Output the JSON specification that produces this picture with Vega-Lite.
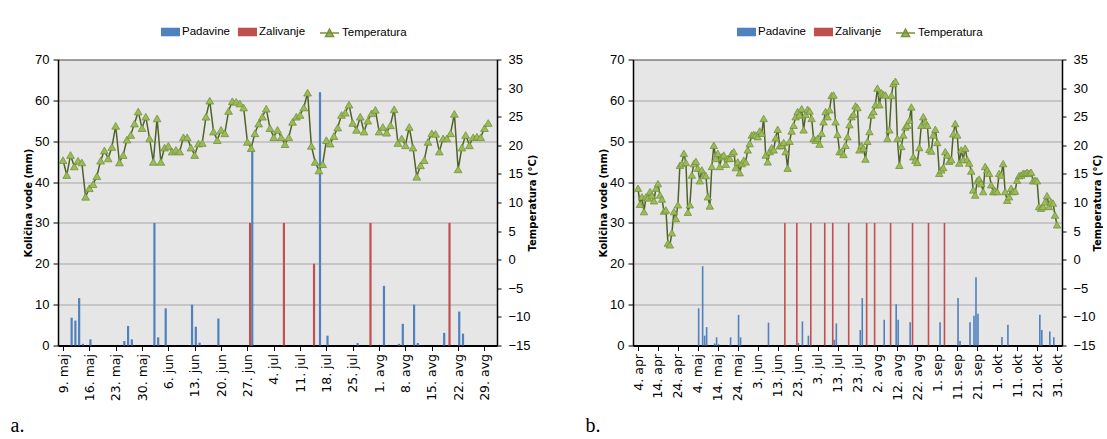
{
  "$schema": "https://vega.github.io/schema/vega-lite/v6.json",
  "background": "white",
  "padding": {"left": 10, "top": 21.5, "right": 0, "bottom": 0},
  "autosize": {"type": "pad"},
  "spacing": 47,
  "config": {
    "view": {"stroke": "#333333", "strokeWidth": 1, "fill": "#E6E6E6"},
    "axis": {"labelColor": "#000000", "titleColor": "#000000", "domainColor": "#000000", "tickColor": "#000000", "labelFont": "Liberation Sans, sans-serif", "labelFontSize": 13},
    "legend": {"labelFont": "Liberation Sans, sans-serif", "labelFontSize": 11.5, "labelColor": "#000000"}
  },
  "datasets": {
    "a": [
      {"d":"2015-05-09","s":"Temperatura","v":17.4},{"d":"2015-05-10","s":"Temperatura","v":14.8},{"d":"2015-05-11","s":"Temperatura","v":18.3},{"d":"2015-05-12","s":"Temperatura","v":16.3},{"d":"2015-05-13","s":"Temperatura","v":17.3},{"d":"2015-05-14","s":"Temperatura","v":17.0},{"d":"2015-05-15","s":"Temperatura","v":11.0},{"d":"2015-05-16","s":"Temperatura","v":12.5},{"d":"2015-05-17","s":"Temperatura","v":13.2},{"d":"2015-05-18","s":"Temperatura","v":14.6},{"d":"2015-05-19","s":"Temperatura","v":17.3},{"d":"2015-05-20","s":"Temperatura","v":19.1},{"d":"2015-05-21","s":"Temperatura","v":17.7},{"d":"2015-05-22","s":"Temperatura","v":19.7},{"d":"2015-05-23","s":"Temperatura","v":23.4},{"d":"2015-05-24","s":"Temperatura","v":17.0},{"d":"2015-05-25","s":"Temperatura","v":18.3},{"d":"2015-05-26","s":"Temperatura","v":21.0},{"d":"2015-05-27","s":"Temperatura","v":21.8},{"d":"2015-05-28","s":"Temperatura","v":23.8},{"d":"2015-05-29","s":"Temperatura","v":25.9},{"d":"2015-05-30","s":"Temperatura","v":23.0},{"d":"2015-05-31","s":"Temperatura","v":25.0},
      {"d":"2015-06-01","s":"Temperatura","v":21.2},{"d":"2015-06-02","s":"Temperatura","v":17.1},{"d":"2015-06-03","s":"Temperatura","v":24.7},{"d":"2015-06-04","s":"Temperatura","v":17.1},{"d":"2015-06-05","s":"Temperatura","v":19.6},{"d":"2015-06-06","s":"Temperatura","v":19.9},{"d":"2015-06-07","s":"Temperatura","v":18.9},{"d":"2015-06-08","s":"Temperatura","v":19.2},{"d":"2015-06-09","s":"Temperatura","v":18.9},{"d":"2015-06-10","s":"Temperatura","v":21.4},{"d":"2015-06-11","s":"Temperatura","v":21.4},{"d":"2015-06-12","s":"Temperatura","v":19.6},{"d":"2015-06-13","s":"Temperatura","v":18.3},{"d":"2015-06-14","s":"Temperatura","v":20.3},{"d":"2015-06-15","s":"Temperatura","v":20.4},{"d":"2015-06-16","s":"Temperatura","v":25.0},{"d":"2015-06-17","s":"Temperatura","v":27.8},{"d":"2015-06-18","s":"Temperatura","v":22.4},{"d":"2015-06-19","s":"Temperatura","v":20.9},{"d":"2015-06-20","s":"Temperatura","v":22.7},{"d":"2015-06-21","s":"Temperatura","v":22.1},{"d":"2015-06-22","s":"Temperatura","v":26.0},{"d":"2015-06-23","s":"Temperatura","v":27.7},{"d":"2015-06-24","s":"Temperatura","v":27.6},{"d":"2015-06-25","s":"Temperatura","v":27.3},{"d":"2015-06-26","s":"Temperatura","v":26.6},{"d":"2015-06-27","s":"Temperatura","v":20.6},{"d":"2015-06-28","s":"Temperatura","v":19.5},{"d":"2015-06-29","s":"Temperatura","v":22.1},{"d":"2015-06-30","s":"Temperatura","v":23.8},
      {"d":"2015-07-01","s":"Temperatura","v":25.0},{"d":"2015-07-02","s":"Temperatura","v":26.4},{"d":"2015-07-03","s":"Temperatura","v":23.0},{"d":"2015-07-04","s":"Temperatura","v":21.4},{"d":"2015-07-05","s":"Temperatura","v":22.7},{"d":"2015-07-06","s":"Temperatura","v":21.4},{"d":"2015-07-07","s":"Temperatura","v":20.2},{"d":"2015-07-08","s":"Temperatura","v":21.4},{"d":"2015-07-09","s":"Temperatura","v":24.1},{"d":"2015-07-10","s":"Temperatura","v":25.0},{"d":"2015-07-11","s":"Temperatura","v":25.3},{"d":"2015-07-12","s":"Temperatura","v":26.6},{"d":"2015-07-13","s":"Temperatura","v":29.2},{"d":"2015-07-14","s":"Temperatura","v":19.9},{"d":"2015-07-15","s":"Temperatura","v":17.1},{"d":"2015-07-16","s":"Temperatura","v":15.6},{"d":"2015-07-17","s":"Temperatura","v":16.7},{"d":"2015-07-18","s":"Temperatura","v":20.9},{"d":"2015-07-19","s":"Temperatura","v":20.3},{"d":"2015-07-20","s":"Temperatura","v":21.6},{"d":"2015-07-21","s":"Temperatura","v":23.1},{"d":"2015-07-22","s":"Temperatura","v":25.3},{"d":"2015-07-23","s":"Temperatura","v":25.7},{"d":"2015-07-24","s":"Temperatura","v":27.1},{"d":"2015-07-25","s":"Temperatura","v":23.9},{"d":"2015-07-26","s":"Temperatura","v":22.7},{"d":"2015-07-27","s":"Temperatura","v":25.0},{"d":"2015-07-28","s":"Temperatura","v":22.4},{"d":"2015-07-29","s":"Temperatura","v":24.3},{"d":"2015-07-30","s":"Temperatura","v":25.6},{"d":"2015-07-31","s":"Temperatura","v":26.2},
      {"d":"2015-08-01","s":"Temperatura","v":22.4},{"d":"2015-08-02","s":"Temperatura","v":23.2},{"d":"2015-08-03","s":"Temperatura","v":22.2},{"d":"2015-08-04","s":"Temperatura","v":23.5},{"d":"2015-08-05","s":"Temperatura","v":26.3},{"d":"2015-08-06","s":"Temperatura","v":20.4},{"d":"2015-08-07","s":"Temperatura","v":21.2},{"d":"2015-08-08","s":"Temperatura","v":20.0},{"d":"2015-08-09","s":"Temperatura","v":23.2},{"d":"2015-08-10","s":"Temperatura","v":19.6},{"d":"2015-08-11","s":"Temperatura","v":14.5},{"d":"2015-08-12","s":"Temperatura","v":16.5},{"d":"2015-08-13","s":"Temperatura","v":17.4},{"d":"2015-08-14","s":"Temperatura","v":20.6},{"d":"2015-08-15","s":"Temperatura","v":22.1},{"d":"2015-08-16","s":"Temperatura","v":22.0},{"d":"2015-08-17","s":"Temperatura","v":18.9},{"d":"2015-08-18","s":"Temperatura","v":21.2},{"d":"2015-08-19","s":"Temperatura","v":21.2},{"d":"2015-08-20","s":"Temperatura","v":22.1},{"d":"2015-08-21","s":"Temperatura","v":25.5},{"d":"2015-08-22","s":"Temperatura","v":15.8},{"d":"2015-08-23","s":"Temperatura","v":19.6},{"d":"2015-08-24","s":"Temperatura","v":21.8},{"d":"2015-08-25","s":"Temperatura","v":20.0},{"d":"2015-08-26","s":"Temperatura","v":21.4},{"d":"2015-08-27","s":"Temperatura","v":21.5},{"d":"2015-08-28","s":"Temperatura","v":21.4},{"d":"2015-08-29","s":"Temperatura","v":23.0},{"d":"2015-08-30","s":"Temperatura","v":23.9},
      {"d":"2015-05-11","s":"Padavine","v":6.8},{"d":"2015-05-12","s":"Padavine","v":6.1},{"d":"2015-05-13","s":"Padavine","v":11.6},{"d":"2015-05-14","s":"Padavine","v":0.4},{"d":"2015-05-16","s":"Padavine","v":1.5},{"d":"2015-05-25","s":"Padavine","v":1.1},{"d":"2015-05-26","s":"Padavine","v":4.8},{"d":"2015-05-27","s":"Padavine","v":1.5},{"d":"2015-06-02","s":"Padavine","v":30.0},{"d":"2015-06-03","s":"Padavine","v":2.0},{"d":"2015-06-05","s":"Padavine","v":9.1},{"d":"2015-06-12","s":"Padavine","v":10.0},{"d":"2015-06-13","s":"Padavine","v":4.6},{"d":"2015-06-14","s":"Padavine","v":0.7},{"d":"2015-06-19","s":"Padavine","v":6.6},{"d":"2015-06-28","s":"Padavine","v":48.0},{"d":"2015-07-16","s":"Padavine","v":62.0},{"d":"2015-07-18","s":"Padavine","v":2.4},{"d":"2015-07-26","s":"Padavine","v":0.6},{"d":"2015-08-02","s":"Padavine","v":14.6},{"d":"2015-08-06","s":"Padavine","v":0.4},{"d":"2015-08-07","s":"Padavine","v":5.3},{"d":"2015-08-10","s":"Padavine","v":10.0},{"d":"2015-08-11","s":"Padavine","v":0.6},{"d":"2015-08-18","s":"Padavine","v":3.1},{"d":"2015-08-22","s":"Padavine","v":8.3},{"d":"2015-08-23","s":"Padavine","v":2.9},
      {"d":"2015-06-28","s":"Zalivanje","v":30},{"d":"2015-07-07","s":"Zalivanje","v":30},{"d":"2015-07-15","s":"Zalivanje","v":20},{"d":"2015-07-30","s":"Zalivanje","v":30},{"d":"2015-08-20","s":"Zalivanje","v":30}
    ],
    "b": [
      {"d":"2015-04-04","s":"Temperatura","v":12.5},{"d":"2015-04-05","s":"Temperatura","v":9.7},{"d":"2015-04-06","s":"Temperatura","v":11.0},{"d":"2015-04-07","s":"Temperatura","v":8.4},{"d":"2015-04-08","s":"Temperatura","v":11.0},{"d":"2015-04-09","s":"Temperatura","v":10.8},{"d":"2015-04-10","s":"Temperatura","v":11.9},{"d":"2015-04-11","s":"Temperatura","v":11.2},{"d":"2015-04-12","s":"Temperatura","v":10.3},{"d":"2015-04-13","s":"Temperatura","v":12.5},{"d":"2015-04-14","s":"Temperatura","v":13.3},{"d":"2015-04-15","s":"Temperatura","v":11.3},{"d":"2015-04-16","s":"Temperatura","v":10.6},{"d":"2015-04-17","s":"Temperatura","v":8.5},{"d":"2015-04-18","s":"Temperatura","v":8.7},{"d":"2015-04-19","s":"Temperatura","v":2.9},{"d":"2015-04-20","s":"Temperatura","v":2.6},{"d":"2015-04-21","s":"Temperatura","v":4.7},{"d":"2015-04-22","s":"Temperatura","v":8.4},{"d":"2015-04-23","s":"Temperatura","v":7.2},{"d":"2015-04-24","s":"Temperatura","v":9.6},{"d":"2015-04-25","s":"Temperatura","v":16.5},{"d":"2015-04-26","s":"Temperatura","v":16.8},{"d":"2015-04-27","s":"Temperatura","v":18.6},{"d":"2015-04-28","s":"Temperatura","v":17.0},{"d":"2015-04-29","s":"Temperatura","v":8.3},{"d":"2015-04-30","s":"Temperatura","v":9.6},
      {"d":"2015-05-01","s":"Temperatura","v":14.8},{"d":"2015-05-02","s":"Temperatura","v":16.8},{"d":"2015-05-03","s":"Temperatura","v":17.2},{"d":"2015-05-04","s":"Temperatura","v":16.0},{"d":"2015-05-05","s":"Temperatura","v":13.8},{"d":"2015-05-06","s":"Temperatura","v":15.7},{"d":"2015-05-07","s":"Temperatura","v":14.8},{"d":"2015-05-08","s":"Temperatura","v":14.7},{"d":"2015-05-09","s":"Temperatura","v":11.0},{"d":"2015-05-10","s":"Temperatura","v":9.4},{"d":"2015-05-11","s":"Temperatura","v":16.3},{"d":"2015-05-12","s":"Temperatura","v":20.0},{"d":"2015-05-13","s":"Temperatura","v":17.7},{"d":"2015-05-14","s":"Temperatura","v":18.6},{"d":"2015-05-15","s":"Temperatura","v":16.3},{"d":"2015-05-16","s":"Temperatura","v":18.0},{"d":"2015-05-17","s":"Temperatura","v":18.3},{"d":"2015-05-18","s":"Temperatura","v":16.7},{"d":"2015-05-19","s":"Temperatura","v":17.7},{"d":"2015-05-20","s":"Temperatura","v":17.7},{"d":"2015-05-21","s":"Temperatura","v":18.6},{"d":"2015-05-22","s":"Temperatura","v":18.9},{"d":"2015-05-23","s":"Temperatura","v":16.1},{"d":"2015-05-24","s":"Temperatura","v":17.1},{"d":"2015-05-25","s":"Temperatura","v":15.2},{"d":"2015-05-26","s":"Temperatura","v":16.8},{"d":"2015-05-27","s":"Temperatura","v":17.4},{"d":"2015-05-28","s":"Temperatura","v":17.1},{"d":"2015-05-29","s":"Temperatura","v":19.2},{"d":"2015-05-30","s":"Temperatura","v":20.3},{"d":"2015-05-31","s":"Temperatura","v":21.8},
      {"d":"2015-06-01","s":"Temperatura","v":21.9},{"d":"2015-06-02","s":"Temperatura","v":21.8},{"d":"2015-06-03","s":"Temperatura","v":21.5},{"d":"2015-06-04","s":"Temperatura","v":22.5},{"d":"2015-06-05","s":"Temperatura","v":22.1},{"d":"2015-06-06","s":"Temperatura","v":24.7},{"d":"2015-06-07","s":"Temperatura","v":18.3},{"d":"2015-06-08","s":"Temperatura","v":17.1},{"d":"2015-06-09","s":"Temperatura","v":18.9},{"d":"2015-06-10","s":"Temperatura","v":19.6},{"d":"2015-06-11","s":"Temperatura","v":19.2},{"d":"2015-06-12","s":"Temperatura","v":21.3},{"d":"2015-06-13","s":"Temperatura","v":22.8},{"d":"2015-06-14","s":"Temperatura","v":19.9},{"d":"2015-06-15","s":"Temperatura","v":20.0},{"d":"2015-06-16","s":"Temperatura","v":20.5},{"d":"2015-06-17","s":"Temperatura","v":18.9},{"d":"2015-06-18","s":"Temperatura","v":16.0},{"d":"2015-06-19","s":"Temperatura","v":20.7},{"d":"2015-06-20","s":"Temperatura","v":22.5},{"d":"2015-06-21","s":"Temperatura","v":23.5},{"d":"2015-06-22","s":"Temperatura","v":25.0},{"d":"2015-06-23","s":"Temperatura","v":25.9},{"d":"2015-06-24","s":"Temperatura","v":25.3},{"d":"2015-06-25","s":"Temperatura","v":26.4},{"d":"2015-06-26","s":"Temperatura","v":22.7},{"d":"2015-06-27","s":"Temperatura","v":25.4},{"d":"2015-06-28","s":"Temperatura","v":26.3},{"d":"2015-06-29","s":"Temperatura","v":26.0},{"d":"2015-06-30","s":"Temperatura","v":24.7},
      {"d":"2015-07-01","s":"Temperatura","v":21.2},{"d":"2015-07-02","s":"Temperatura","v":20.9},{"d":"2015-07-03","s":"Temperatura","v":21.2},{"d":"2015-07-04","s":"Temperatura","v":20.2},{"d":"2015-07-05","s":"Temperatura","v":22.1},{"d":"2015-07-06","s":"Temperatura","v":24.1},{"d":"2015-07-07","s":"Temperatura","v":25.9},{"d":"2015-07-08","s":"Temperatura","v":25.0},{"d":"2015-07-09","s":"Temperatura","v":26.2},{"d":"2015-07-10","s":"Temperatura","v":28.7},{"d":"2015-07-11","s":"Temperatura","v":28.8},{"d":"2015-07-12","s":"Temperatura","v":24.1},{"d":"2015-07-13","s":"Temperatura","v":21.9},{"d":"2015-07-14","s":"Temperatura","v":18.9},{"d":"2015-07-15","s":"Temperatura","v":18.9},{"d":"2015-07-16","s":"Temperatura","v":18.4},{"d":"2015-07-17","s":"Temperatura","v":20.0},{"d":"2015-07-18","s":"Temperatura","v":21.5},{"d":"2015-07-19","s":"Temperatura","v":23.6},{"d":"2015-07-20","s":"Temperatura","v":25.0},{"d":"2015-07-21","s":"Temperatura","v":25.4},{"d":"2015-07-22","s":"Temperatura","v":26.9},{"d":"2015-07-23","s":"Temperatura","v":26.6},{"d":"2015-07-24","s":"Temperatura","v":19.2},{"d":"2015-07-25","s":"Temperatura","v":20.0},{"d":"2015-07-26","s":"Temperatura","v":19.5},{"d":"2015-07-27","s":"Temperatura","v":17.6},{"d":"2015-07-28","s":"Temperatura","v":20.7},{"d":"2015-07-29","s":"Temperatura","v":22.4},{"d":"2015-07-30","s":"Temperatura","v":25.3},{"d":"2015-07-31","s":"Temperatura","v":25.9},
      {"d":"2015-08-01","s":"Temperatura","v":27.1},{"d":"2015-08-02","s":"Temperatura","v":30.0},{"d":"2015-08-03","s":"Temperatura","v":27.1},{"d":"2015-08-04","s":"Temperatura","v":29.2},{"d":"2015-08-05","s":"Temperatura","v":28.9},{"d":"2015-08-06","s":"Temperatura","v":28.8},{"d":"2015-08-07","s":"Temperatura","v":21.2},{"d":"2015-08-08","s":"Temperatura","v":22.7},{"d":"2015-08-09","s":"Temperatura","v":28.7},{"d":"2015-08-10","s":"Temperatura","v":30.8},{"d":"2015-08-11","s":"Temperatura","v":31.2},{"d":"2015-08-12","s":"Temperatura","v":21.2},{"d":"2015-08-13","s":"Temperatura","v":16.5},{"d":"2015-08-14","s":"Temperatura","v":19.8},{"d":"2015-08-15","s":"Temperatura","v":21.8},{"d":"2015-08-16","s":"Temperatura","v":23.2},{"d":"2015-08-17","s":"Temperatura","v":23.5},{"d":"2015-08-18","s":"Temperatura","v":24.4},{"d":"2015-08-19","s":"Temperatura","v":26.7},{"d":"2015-08-20","s":"Temperatura","v":18.0},{"d":"2015-08-21","s":"Temperatura","v":17.4},{"d":"2015-08-22","s":"Temperatura","v":17.0},{"d":"2015-08-23","s":"Temperatura","v":19.6},{"d":"2015-08-24","s":"Temperatura","v":23.5},{"d":"2015-08-25","s":"Temperatura","v":25.0},{"d":"2015-08-26","s":"Temperatura","v":24.1},{"d":"2015-08-27","s":"Temperatura","v":23.5},{"d":"2015-08-28","s":"Temperatura","v":19.3},{"d":"2015-08-29","s":"Temperatura","v":19.0},{"d":"2015-08-30","s":"Temperatura","v":21.8},{"d":"2015-08-31","s":"Temperatura","v":22.8},
      {"d":"2015-09-01","s":"Temperatura","v":20.5},{"d":"2015-09-02","s":"Temperatura","v":15.1},{"d":"2015-09-03","s":"Temperatura","v":15.7},{"d":"2015-09-04","s":"Temperatura","v":16.1},{"d":"2015-09-05","s":"Temperatura","v":18.9},{"d":"2015-09-06","s":"Temperatura","v":18.3},{"d":"2015-09-07","s":"Temperatura","v":17.2},{"d":"2015-09-08","s":"Temperatura","v":17.5},{"d":"2015-09-09","s":"Temperatura","v":22.0},{"d":"2015-09-10","s":"Temperatura","v":23.8},{"d":"2015-09-11","s":"Temperatura","v":21.8},{"d":"2015-09-12","s":"Temperatura","v":16.9},{"d":"2015-09-13","s":"Temperatura","v":19.2},{"d":"2015-09-14","s":"Temperatura","v":17.5},{"d":"2015-09-15","s":"Temperatura","v":19.5},{"d":"2015-09-16","s":"Temperatura","v":17.5},{"d":"2015-09-17","s":"Temperatura","v":16.9},{"d":"2015-09-18","s":"Temperatura","v":15.5},{"d":"2015-09-19","s":"Temperatura","v":12.2},{"d":"2015-09-20","s":"Temperatura","v":11.3},{"d":"2015-09-21","s":"Temperatura","v":13.8},{"d":"2015-09-22","s":"Temperatura","v":14.1},{"d":"2015-09-23","s":"Temperatura","v":13.3},{"d":"2015-09-24","s":"Temperatura","v":11.9},{"d":"2015-09-25","s":"Temperatura","v":16.3},{"d":"2015-09-26","s":"Temperatura","v":15.7},{"d":"2015-09-27","s":"Temperatura","v":15.1},{"d":"2015-09-28","s":"Temperatura","v":13.1},{"d":"2015-09-29","s":"Temperatura","v":11.9},{"d":"2015-09-30","s":"Temperatura","v":12.0},
      {"d":"2015-10-01","s":"Temperatura","v":11.9},{"d":"2015-10-02","s":"Temperatura","v":15.1},{"d":"2015-10-03","s":"Temperatura","v":14.8},{"d":"2015-10-04","s":"Temperatura","v":16.8},{"d":"2015-10-05","s":"Temperatura","v":11.9},{"d":"2015-10-06","s":"Temperatura","v":10.4},{"d":"2015-10-07","s":"Temperatura","v":11.0},{"d":"2015-10-08","s":"Temperatura","v":12.5},{"d":"2015-10-09","s":"Temperatura","v":11.9},{"d":"2015-10-10","s":"Temperatura","v":12.0},{"d":"2015-10-11","s":"Temperatura","v":13.9},{"d":"2015-10-12","s":"Temperatura","v":14.7},{"d":"2015-10-13","s":"Temperatura","v":14.8},{"d":"2015-10-14","s":"Temperatura","v":15.1},{"d":"2015-10-15","s":"Temperatura","v":15.1},{"d":"2015-10-16","s":"Temperatura","v":15.3},{"d":"2015-10-17","s":"Temperatura","v":15.1},{"d":"2015-10-18","s":"Temperatura","v":15.3},{"d":"2015-10-19","s":"Temperatura","v":13.8},{"d":"2015-10-20","s":"Temperatura","v":13.9},{"d":"2015-10-21","s":"Temperatura","v":13.8},{"d":"2015-10-22","s":"Temperatura","v":9.3},{"d":"2015-10-23","s":"Temperatura","v":9.0},{"d":"2015-10-24","s":"Temperatura","v":9.3},{"d":"2015-10-25","s":"Temperatura","v":10.1},{"d":"2015-10-26","s":"Temperatura","v":11.2},{"d":"2015-10-27","s":"Temperatura","v":9.3},{"d":"2015-10-28","s":"Temperatura","v":10.1},{"d":"2015-10-29","s":"Temperatura","v":9.9},{"d":"2015-10-30","s":"Temperatura","v":7.8},{"d":"2015-10-31","s":"Temperatura","v":6.1},
      {"d":"2015-05-04","s":"Padavine","v":9.1},{"d":"2015-05-06","s":"Padavine","v":19.4},{"d":"2015-05-07","s":"Padavine","v":2.4},{"d":"2015-05-08","s":"Padavine","v":4.5},{"d":"2015-05-12","s":"Padavine","v":0.5},{"d":"2015-05-13","s":"Padavine","v":2.0},{"d":"2015-05-14","s":"Padavine","v":0.3},{"d":"2015-05-20","s":"Padavine","v":2.0},{"d":"2015-05-24","s":"Padavine","v":7.5},{"d":"2015-05-25","s":"Padavine","v":2.0},{"d":"2015-06-08","s":"Padavine","v":5.6},{"d":"2015-06-23","s":"Padavine","v":0.6},{"d":"2015-06-25","s":"Padavine","v":5.9},{"d":"2015-06-28","s":"Padavine","v":2.4},{"d":"2015-07-11","s":"Padavine","v":1.4},{"d":"2015-07-12","s":"Padavine","v":5.4},{"d":"2015-07-24","s":"Padavine","v":3.8},{"d":"2015-07-25","s":"Padavine","v":11.6},{"d":"2015-08-05","s":"Padavine","v":6.3},{"d":"2015-08-11","s":"Padavine","v":10.1},{"d":"2015-08-12","s":"Padavine","v":6.3},{"d":"2015-08-18","s":"Padavine","v":5.7},{"d":"2015-09-02","s":"Padavine","v":5.7},{"d":"2015-09-11","s":"Padavine","v":11.6},{"d":"2015-09-12","s":"Padavine","v":1.1},{"d":"2015-09-17","s":"Padavine","v":5.7},{"d":"2015-09-19","s":"Padavine","v":7.3},{"d":"2015-09-20","s":"Padavine","v":16.7},{"d":"2015-09-21","s":"Padavine","v":7.8},{"d":"2015-10-03","s":"Padavine","v":2.1},{"d":"2015-10-06","s":"Padavine","v":5.1},{"d":"2015-10-22","s":"Padavine","v":7.5},{"d":"2015-10-23","s":"Padavine","v":3.8},{"d":"2015-10-27","s":"Padavine","v":3.4},{"d":"2015-10-29","s":"Padavine","v":2.0},
      {"d":"2015-06-17","s":"Zalivanje","v":30},{"d":"2015-06-23","s":"Zalivanje","v":30},{"d":"2015-06-30","s":"Zalivanje","v":30},{"d":"2015-07-07","s":"Zalivanje","v":30},{"d":"2015-07-11","s":"Zalivanje","v":30},{"d":"2015-07-19","s":"Zalivanje","v":30},{"d":"2015-07-28","s":"Zalivanje","v":30},{"d":"2015-08-01","s":"Zalivanje","v":30},{"d":"2015-08-09","s":"Zalivanje","v":30},{"d":"2015-08-20","s":"Zalivanje","v":30},{"d":"2015-08-28","s":"Zalivanje","v":30},{"d":"2015-09-05","s":"Zalivanje","v":30}
    ]
  },
  "resolve": {"scale": {"fill": "independent", "stroke": "independent"}, "legend": {"fill": "independent", "stroke": "independent"}},
  "hconcat": [
    {
      "width": 439, "height": 286,
      "data": {"name": "a"},
      "title": {"text": "a.", "orient": "bottom", "anchor": "start", "frame": "bounds", "font": "Liberation Serif", "fontSize": 20, "fontWeight": "normal", "color": "#000000", "dx": -13, "offset": 15},
      "encoding": {
        "x": {"field": "d", "type": "temporal",
          "scale": {"type": "utc", "domain": [{"year": 2015, "month": 5, "date": 9, "utc": true}, {"year": 2015, "month": 8, "date": 31, "utc": true}]},
          "axis": {"title": null, "grid": false, "labelAngle": 270, "labelOverlap": false, "labelFlush": false, "tickSize": 5, "domainWidth": 2, "labelPadding": 3, "labelFont": "DejaVu Sans", "labelFontSize": 12.5,
            "labelExpr": "utcdate(datum.value) + '. ' + ['jan','feb','mar','apr','maj','jun','jul','avg','sep','okt','nov','dec'][utcmonth(datum.value)]",
            "values": [{"year":2015,"month":5,"date":9,"utc":true},{"year":2015,"month":5,"date":16,"utc":true},{"year":2015,"month":5,"date":23,"utc":true},{"year":2015,"month":5,"date":30,"utc":true},{"year":2015,"month":6,"date":6,"utc":true},{"year":2015,"month":6,"date":13,"utc":true},{"year":2015,"month":6,"date":20,"utc":true},{"year":2015,"month":6,"date":27,"utc":true},{"year":2015,"month":7,"date":4,"utc":true},{"year":2015,"month":7,"date":11,"utc":true},{"year":2015,"month":7,"date":18,"utc":true},{"year":2015,"month":7,"date":25,"utc":true},{"year":2015,"month":8,"date":1,"utc":true},{"year":2015,"month":8,"date":8,"utc":true},{"year":2015,"month":8,"date":15,"utc":true},{"year":2015,"month":8,"date":22,"utc":true},{"year":2015,"month":8,"date":29,"utc":true}]}}
      },
      "layer": [
        {
          "encoding": {
            "y": {"field": "v", "type": "quantitative", "scale": {"domain": [0, 70], "nice": false},
              "axis": {"values": [0,10,20,30,40,50,60,70], "title": "Količina vode (mm)", "titleFont": "DejaVu Sans", "titleFontSize": 10, "titleFontWeight": "bold", "titlePadding": 1, "grid": true, "gridColor": "#A6A6A6", "tickSize": 5, "labelPadding": 4, "domainWidth": 1.5}},
            "fill": {"field": "s", "type": "nominal", "scale": {"domain": ["Padavine", "Zalivanje"], "range": ["#4F81BD", "#C0504D"]},
              "legend": {"title": null, "orient": "none", "legendX": 103, "legendY": -37, "direction": "horizontal", "padding": 0, "symbolType": "M-1,-0.45H1V0.45H-1Z", "symbolSize": 361, "symbolStrokeWidth": 0, "labelOffset": 2, "columnPadding": 8}}
          },
          "layer": [
            {"transform": [{"filter": "datum.s === 'Padavine'"}], "mark": {"type": "bar", "width": 2.2, "xOffset": 1.1}},
            {"transform": [{"filter": "datum.s === 'Zalivanje'"}], "mark": {"type": "bar", "width": 2.2, "xOffset": -1.1}}
          ]
        },
        {
          "transform": [{"filter": "datum.s === 'Temperatura'"}],
          "encoding": {
            "y": {"field": "v", "type": "quantitative", "scale": {"domain": [-15, 35], "nice": false, "zero": false},
              "axis": {"orient": "right", "values": [-15,-10,-5,0,5,10,15,20,25,30,35], "title": "Temperatura (°C)", "titleAngle": 270, "titleFont": "DejaVu Sans", "titleFontSize": 10, "titleFontWeight": "bold", "titlePadding": 7, "grid": false, "tickSize": 4, "labelPadding": 7, "domainWidth": 1.5}}
          },
          "layer": [
            {"mark": {"type": "line", "color": "#4F6228", "strokeWidth": 1.5}, "encoding": {}},
            {"mark": {"type": "point", "shape": "triangle-up", "filled": true, "fill": "#9BBB59", "size": 60, "strokeWidth": 0.8, "opacity": 1},
              "encoding": {"stroke": {"field": "s", "type": "nominal", "scale": {"domain": ["Temperatura"], "range": ["#76923C"]},
                "legend": {"title": null, "orient": "none", "legendX": 261, "legendY": -37, "direction": "horizontal", "padding": 0, "symbolType": "M-1,0H1M-0.42,0.38L0,-0.4L0.42,0.38Z", "symbolSize": 361, "symbolStrokeWidth": 1.5, "labelOffset": 2,
                  "encode": {"symbols": {"update": {"fill": {"value": "#9BBB59"}, "stroke": {"value": "#4F6228"}}}}}}}}
          ]
        }
      ],
      "resolve": {"scale": {"y": "independent"}}
    },
    {
      "width": 429, "height": 286,
      "data": {"name": "b"},
      "title": {"text": "b.", "orient": "bottom", "anchor": "start", "frame": "bounds", "font": "Liberation Serif", "fontSize": 20, "fontWeight": "normal", "color": "#000000", "dx": -13, "offset": 15},
      "encoding": {
        "x": {"field": "d", "type": "temporal",
          "scale": {"type": "utc", "domain": [{"year": 2015, "month": 4, "date": 4, "utc": true}, {"year": 2015, "month": 10, "date": 31, "utc": true}]},
          "axis": {"title": null, "grid": false, "labelAngle": 270, "labelOverlap": false, "labelFlush": false, "tickSize": 5, "domainWidth": 2, "labelPadding": 3, "labelFont": "DejaVu Sans", "labelFontSize": 12.5,
            "labelExpr": "utcdate(datum.value) + '. ' + ['jan','feb','mar','apr','maj','jun','jul','avg','sep','okt','nov','dec'][utcmonth(datum.value)]",
            "values": [{"year":2015,"month":4,"date":4,"utc":true},{"year":2015,"month":4,"date":14,"utc":true},{"year":2015,"month":4,"date":24,"utc":true},{"year":2015,"month":5,"date":4,"utc":true},{"year":2015,"month":5,"date":14,"utc":true},{"year":2015,"month":5,"date":24,"utc":true},{"year":2015,"month":6,"date":3,"utc":true},{"year":2015,"month":6,"date":13,"utc":true},{"year":2015,"month":6,"date":23,"utc":true},{"year":2015,"month":7,"date":3,"utc":true},{"year":2015,"month":7,"date":13,"utc":true},{"year":2015,"month":7,"date":23,"utc":true},{"year":2015,"month":8,"date":2,"utc":true},{"year":2015,"month":8,"date":12,"utc":true},{"year":2015,"month":8,"date":22,"utc":true},{"year":2015,"month":9,"date":1,"utc":true},{"year":2015,"month":9,"date":11,"utc":true},{"year":2015,"month":9,"date":21,"utc":true},{"year":2015,"month":10,"date":1,"utc":true},{"year":2015,"month":10,"date":11,"utc":true},{"year":2015,"month":10,"date":21,"utc":true},{"year":2015,"month":10,"date":31,"utc":true}]}}
      },
      "layer": [
        {
          "encoding": {
            "y": {"field": "v", "type": "quantitative", "scale": {"domain": [0, 70], "nice": false},
              "axis": {"values": [0,10,20,30,40,50,60,70], "title": "Količina vode (mm)", "titleFont": "DejaVu Sans", "titleFontSize": 10, "titleFontWeight": "bold", "titlePadding": 1, "grid": true, "gridColor": "#A6A6A6", "tickSize": 5, "labelPadding": 4, "domainWidth": 1.5}},
            "fill": {"field": "s", "type": "nominal", "scale": {"domain": ["Padavine", "Zalivanje"], "range": ["#4F81BD", "#C0504D"]},
              "legend": {"title": null, "orient": "none", "legendX": 104, "legendY": -37, "direction": "horizontal", "padding": 0, "symbolType": "M-1,-0.45H1V0.45H-1Z", "symbolSize": 361, "symbolStrokeWidth": 0, "labelOffset": 2, "columnPadding": 8}}
          },
          "layer": [
            {"transform": [{"filter": "datum.s === 'Padavine'"}], "mark": {"type": "bar", "width": 1.6, "xOffset": 0.8}},
            {"transform": [{"filter": "datum.s === 'Zalivanje'"}], "mark": {"type": "bar", "width": 1.6, "xOffset": -0.8}}
          ]
        },
        {
          "transform": [{"filter": "datum.s === 'Temperatura'"}],
          "encoding": {
            "y": {"field": "v", "type": "quantitative", "scale": {"domain": [-15, 35], "nice": false, "zero": false},
              "axis": {"orient": "right", "values": [-15,-10,-5,0,5,10,15,20,25,30,35], "title": "Temperatura (°C)", "titleAngle": 270, "titleFont": "DejaVu Sans", "titleFontSize": 10, "titleFontWeight": "bold", "titlePadding": 7, "grid": false, "tickSize": 4, "labelPadding": 7, "domainWidth": 1.5}}
          },
          "layer": [
            {"mark": {"type": "line", "color": "#4F6228", "strokeWidth": 1.5}, "encoding": {}},
            {"mark": {"type": "point", "shape": "triangle-up", "filled": true, "fill": "#9BBB59", "size": 55, "strokeWidth": 0.8, "opacity": 1},
              "encoding": {"stroke": {"field": "s", "type": "nominal", "scale": {"domain": ["Temperatura"], "range": ["#76923C"]},
                "legend": {"title": null, "orient": "none", "legendX": 262, "legendY": -37, "direction": "horizontal", "padding": 0, "symbolType": "M-1,0H1M-0.42,0.38L0,-0.4L0.42,0.38Z", "symbolSize": 361, "symbolStrokeWidth": 1.5, "labelOffset": 2,
                  "encode": {"symbols": {"update": {"fill": {"value": "#9BBB59"}, "stroke": {"value": "#4F6228"}}}}}}}}
          ]
        }
      ],
      "resolve": {"scale": {"y": "independent"}}
    }
  ]
}
